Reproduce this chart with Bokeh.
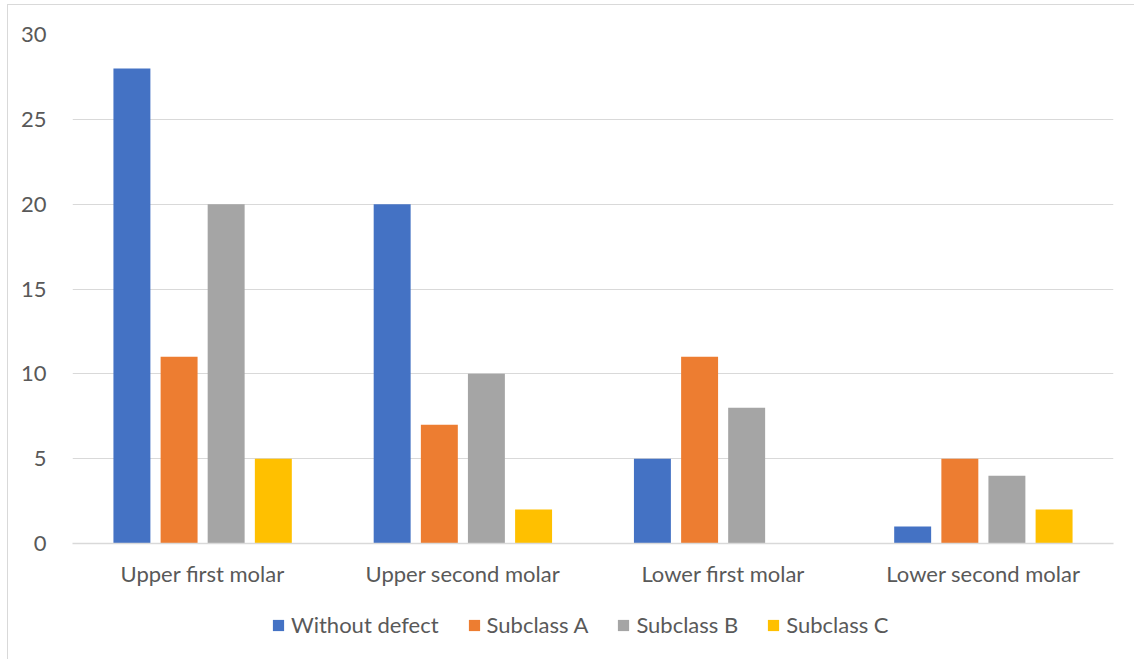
from bokeh.plotting import figure
from bokeh.layouts import column
from bokeh.models import ColumnDataSource, FactorRange, Range1d, Legend, LegendItem, FixedTicker
from bokeh.transform import dodge
from bokeh.embed import file_html
from bokeh.resources import INLINE

categories = ["Upper first molar", "Upper second molar", "Lower first molar", "Lower second molar"]
series_names = ["Without defect", "Subclass A", "Subclass B", "Subclass C"]
without_defect = [28, 20, 5, 1]
subclass_a = [11, 7, 11, 5]
subclass_b = [20, 10, 8, 4]
subclass_c = [5, 2, 0, 2]
y_ticks = [0, 5, 10, 15, 20, 25, 30]

colors = ["#4472C4", "#ED7D31", "#A5A5A5", "#FFC000"]
offsets = [-0.2717, -0.0904, 0.0904, 0.2717]
FONT = "Lato"
TXT = "#595959"

src = ColumnDataSource(dict(cat=categories, s0=without_defect, s1=subclass_a,
                            s2=subclass_b, s3=subclass_c))

p = figure(x_range=FactorRange(*categories, range_padding=0), y_range=Range1d(0, 30),
           width=1126, height=595, output_backend="svg", toolbar_location=None,
           min_border_left=64, min_border_right=21, min_border_top=29, min_border_bottom=57)
p.outline_line_color = None

for i, key in enumerate(["s0", "s1", "s2", "s3"]):
    p.vbar(x=dodge("cat", offsets[i], range=p.x_range), top=key, width=0.142,
           source=src, fill_color=colors[i], line_color=None)

p.yaxis.ticker = FixedTicker(ticks=y_ticks)
p.yaxis.axis_line_color = None
p.yaxis.major_tick_line_color = None
p.yaxis.minor_tick_line_color = None
p.yaxis.major_label_standoff = 20
p.xaxis.axis_line_color = "#d9d9d9"
p.xaxis.axis_line_width = 1.5
p.xaxis.major_tick_line_color = None
p.xaxis.major_label_standoff = 10
for ax in (p.xaxis, p.yaxis):
    ax.major_label_text_font = FONT
    ax.major_label_text_font_size = "22px"
    ax.major_label_text_color = TXT
p.xgrid.grid_line_color = None
p.ygrid.grid_line_color = "#d9d9d9"
p.ygrid.grid_line_width = 1.2

# legend strip below the chart (its swatches reuse the series colours; the bars are outside its view)
lg = figure(width=1126, height=59, x_range=Range1d(0, 1), y_range=Range1d(0, 1),
            x_axis_type=None, y_axis_type=None, output_backend="svg", toolbar_location=None,
            min_border=0)
lg.outline_line_color = None
lg.xgrid.visible = False
lg.ygrid.visible = False
items = []
for name, c in zip(series_names, colors):
    r = lg.vbar(x=[-10], top=[-10], width=0.1, fill_color=c, line_color=None)
    items.append(LegendItem(label=name, renderers=[r]))
legend = Legend(items=items, orientation="horizontal", location=(199, 21),
                glyph_width=14, glyph_height=14, label_height=22, label_text_font=FONT,
                label_text_font_size="22px", label_text_color=TXT,
                label_text_baseline="middle",
                spacing=28, label_standoff=6, padding=0, margin=0,
                border_line_color=None, background_fill_alpha=0)
lg.add_layout(legend, "center")

layout = column(p, lg, spacing=0, margin=(4, 0, 0, 7))
layout.styles = {"border-left": "1px solid #d9d9d9", "border-top": "1px solid #d9d9d9"}

open("out.html", "w").write(file_html(layout, INLINE))
